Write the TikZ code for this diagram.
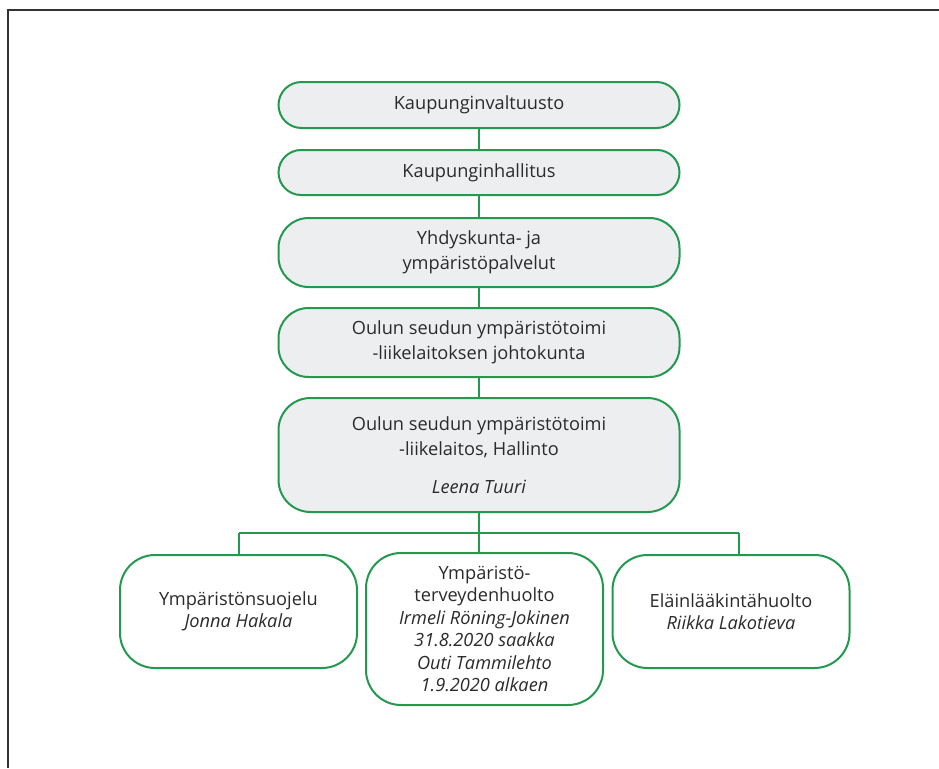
\documentclass[tikz,border=0pt]{standalone}
\usepackage{fontspec}
\setmainfont{Open Sans}
\definecolor{grn}{HTML}{23994F}
\definecolor{boxfill}{HTML}{EDEEF0}
\definecolor{txt}{HTML}{2B2B2B}
\definecolor{frame}{HTML}{333333}
\begin{document}
\begin{tikzpicture}[x=1pt,y=1pt,
  topbox/.style={draw=grn, line width=2pt, fill=boxfill, text=txt, align=center,
    minimum width=401pt, inner sep=0pt, font=\fontsize{18.2}{25.5}\selectfont},
  botbox/.style={draw=grn, line width=2pt, fill=white, text=txt, align=center,
    minimum width=237pt, inner sep=0pt, rounded corners=35pt, font=\fontsize{18.2}{22.5}\selectfont},
  conn/.style={draw=grn, line width=2pt}]
\useasboundingbox (0,0) rectangle (939,-768);
\draw[frame, line width=1.3pt] (939,-10) -- (8,-10) -- (8,-768);

\node[topbox, minimum height=46pt, rounded corners=23pt] (b1) at (479,-105) {Kaupunginvaltuusto};
\node[topbox, minimum height=45pt, rounded corners=22.5pt] (b2) at (479,-172.5) {Kaupunginhallitus};
\node[topbox, minimum height=69pt, rounded corners=30pt] (b3) at (479,-252.5) {Yhdyskunta- ja\\ympäristöpalvelut};
\node[topbox, minimum height=69pt, rounded corners=30pt] (b4) at (479,-342.5) {Oulun seudun ympäristötoimi\\-liikelaitoksen johtokunta};
\node[topbox, minimum height=114pt, rounded corners=32pt] (b5) at (479,-455) {Oulun seudun ympäristötoimi\\-liikelaitos, Hallinto\\[12pt]\textit{Leena Tuuri}};

\node[botbox, minimum height=113pt] (l) at (238.5,-611.5) {Ympäristönsuojelu\\\textit{Jonna Hakala}};
\node[botbox, minimum height=152pt] (m) at (484.5,-629) {Ympäristö-\\terveydenhuolto\\\textit{Irmeli Röning-Jokinen}\\\textit{31.8.2020 saakka}\\\textit{Outi Tammilehto}\\\textit{1.9.2020 alkaen}};
\node[botbox, minimum height=113pt] (r) at (731,-611.5) {Eläinlääkintähuolto\\\textit{Riikka Lakotieva}};

\coordinate (dl) at (239,-533);
\coordinate (dr) at (739,-533);

\draw[conn] (b1) -- (b2);
\draw[conn] (b2) -- (b3);
\draw[conn] (b3) -- (b4);
\draw[conn] (b4) -- (b5);
\draw[conn] (b5.south) -- (b5.south |- m.north);
\draw[conn, line width=2.5pt] (dl) -- (dr);
\draw[conn] (dl) -- (dl |- l.north);
\draw[conn] (dr) -- (dr |- r.north);
\end{tikzpicture}
\end{document}
